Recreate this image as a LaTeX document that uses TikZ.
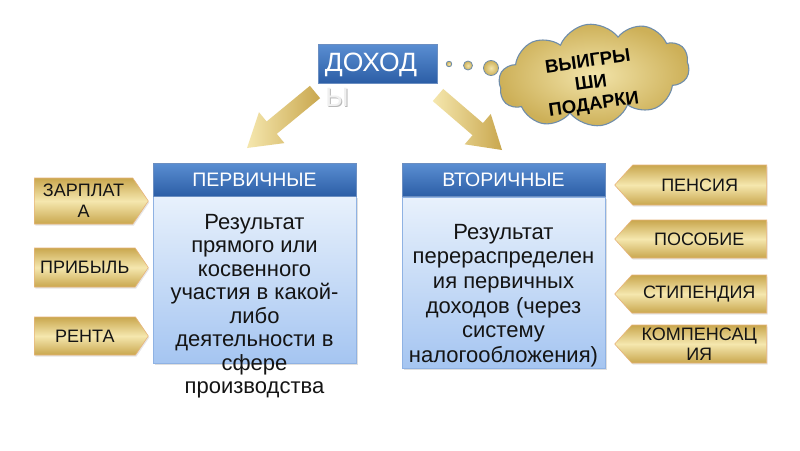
\documentclass[tikz,border=0pt]{standalone}
\usepackage{fontspec}
\setmainfont{Liberation Sans}
\usetikzlibrary{shapes.symbols,shadows,calc}
\definecolor{goldD}{HTML}{C9A74E}
\definecolor{goldL}{HTML}{F5E7AE}
\definecolor{tagline}{HTML}{E8B47A}
\definecolor{hdrT}{HTML}{5A8ED2}
\definecolor{hdrB}{HTML}{2C5EA6}
\definecolor{bodyT}{HTML}{E8F1FC}
\definecolor{bodyB}{HTML}{A5C5F1}
\definecolor{bodyLine}{HTML}{8FB2E3}
\definecolor{cloudLine}{HTML}{6F8DAA}
\definecolor{cloudD}{HTML}{CDB058}
\definecolor{cloudL}{HTML}{F2E4AA}
\definecolor{txtD}{HTML}{141414}
\newcommand\goldblock[3]{%
  \coordinate (#1B) at ($(#3)!32pt!(#2)$);
  \shade[goldarrow] ($(#2)!8pt!90:(#3)$) -- ($(#1B)!8pt!90:(#3)$) -- ($(#1B)!20pt!90:(#3)$) -- (#3)
    -- ($(#1B)!20pt!-90:(#3)$) -- ($(#1B)!8pt!-90:(#3)$) -- ($(#2)!8pt!-90:(#3)$) -- cycle;}
\begin{document}
\begin{tikzpicture}[x=1pt,y=-1pt,
  hdr/.style={rectangle, minimum width=203pt, minimum height=33pt, inner sep=0pt,
    top color=hdrT, bottom color=hdrB, draw=hdrB!70!white, text=white,
    font=\fontsize{19.5}{22}\selectfont},
  bodybox/.style={rectangle, minimum width=203pt, inner sep=0pt,
    top color=bodyT, bottom color=bodyB, draw=bodyLine,
    drop shadow={opacity=0.25,shadow xshift=1.5pt,shadow yshift=-2pt}},
  bodytxt/.style={align=center, inner sep=0pt, text=txtD},
  tagbase/.style={signal, inner sep=0pt, minimum width=114pt, draw=tagline, line width=0.6pt,
    top color=goldD, bottom color=goldD, middle color=goldL, text=txtD, align=center,
    font=\fontsize{18}{21}\selectfont,
    drop shadow={opacity=0.2,shadow xshift=1pt,shadow yshift=-1.5pt}},
  tagL/.style={tagbase, anchor=west, signal to=east, signal pointer angle=112},
  tagR/.style={tagbase, anchor=east, minimum width=152pt, signal to=west, signal pointer angle=96},
  goldarrow/.style={left color=goldL, right color=goldD},
  bubble/.style={circle, inner sep=0pt, inner color=cloudL, outer color=cloudD, draw=cloudLine, line width=0.8pt}
]
\useasboundingbox (0,0) rectangle (800,450);
\fill[white] (0,0) rectangle (800,450);

% top box
\node[rectangle, minimum width=119pt, minimum height=39pt, inner sep=0pt, top color=hdrT, bottom color=hdrB,
  draw=hdrB!70!white] (dohod) at (377.5,63.5) {};
\node[text=white, inner sep=0pt, font=\fontsize{26.5}{28}\selectfont] (dohodtxt) at (371,65) {ДОХОД};
\node[text=gray!55, inner sep=0pt, font=\fontsize{26.5}{28}\selectfont] (ysh) at (338,98) {Ы};
\node[text=gray!12, inner sep=0pt, font=\fontsize{26.5}{28}\selectfont] (y) at (337,97) {Ы};

% thought bubbles and cloud
\node[bubble, minimum size=5.5pt] (b1) at (449,64) {};
\node[bubble, minimum size=9pt] (b2) at (468,65.5) {};
\node[bubble, minimum size=15pt] (b3) at (491,68) {};
\node[cloud, cloud puffs=10, cloud puff arc=120, aspect=1.9, minimum width=192pt, minimum height=102pt,
  rotate=8, inner color=cloudL, outer color=cloudD, draw=cloudLine, line width=1.1pt] (cloud) at (594,75) {};
\node[rotate=8, align=center, inner sep=0pt, text=black, font=\bfseries\fontsize{18.5}{21.5}\selectfont] (cloudtxt)
  at (591,84) {ВЫИГРЫ\\ШИ\\ПОДАРКИ};

% arrows
\coordinate (LT) at (315,92);
\coordinate (LP) at (247,148);
\coordinate (RT) at (438,95);
\coordinate (RP) at (502,150);
\goldblock{LA}{LT}{LP}
\goldblock{RA}{RT}{RP}

% left block
\node[bodybox, minimum height=167pt] (lbody) at (254.5,279.5) {};
\node[hdr] (lhdr) at (254.5,179.5) {ПЕРВИЧНЫЕ};
\node[bodytxt, anchor=north, font=\fontsize{22}{23.5}\selectfont] (ltxt) at (254.5,214) {Результат\\прямого или\\косвенного\\участия в какой-\\либо\\деятельности в\\сфере\\производства};

% right block
\node[bodybox, minimum height=171pt] (rbody) at (503.5,282.5) {};
\node[hdr] (rhdr) at (503.5,180) {ВТОРИЧНЫЕ};
\node[bodytxt, anchor=north, font=\fontsize{22}{24.6}\selectfont] (rtxt) at (503.5,224) {Результат\\перераспределен\\ия первичных\\доходов (через\\систему\\налогообложения)};

% left tags
\node[tagL, minimum height=46pt] (t1) at (34,201) {ЗАРПЛАТ\\А};
\node[tagL, minimum height=39pt] (t2) at (34,267.5) {ПРИБЫЛЬ};
\node[tagL, minimum height=38pt] (t3) at (34,336) {РЕНТА};

% right tags
\node[tagR, minimum height=40pt] (r1) at (767,185) {ПЕНСИЯ};
\node[tagR, minimum height=38pt] (r2) at (767,239) {ПОСОБИЕ};
\node[tagR, minimum height=38pt] (r3) at (767,294) {СТИПЕНДИЯ};
\node[tagR, minimum height=38pt, font=\fontsize{18}{20}\selectfont] (r4) at (767,344) {КОМПЕНСАЦ\\ИЯ};
\end{tikzpicture}
\end{document}
